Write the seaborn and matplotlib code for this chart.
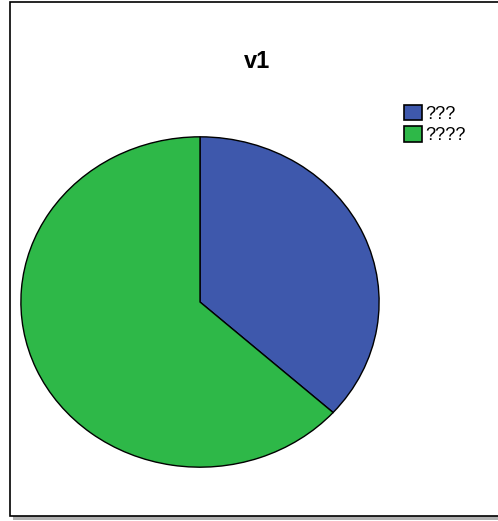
import matplotlib
matplotlib.use("Agg")
import matplotlib.pyplot as plt
import seaborn as sns
from matplotlib.patches import Rectangle, Patch

sns.set_theme(style="white")
plt.rcParams['font.family'] = ['Liberation Sans', 'DejaVu Sans']
plt.rcParams['text.color'] = 'black'

categories = ["???", "????"]
values = [11, 19]
colors = ["#3e58ac", "#2eb848"]
title = "v1"

W, H = 498, 521
fig = plt.figure(figsize=(W/100, H/100), dpi=100)

# frame with shadow
shadow = Rectangle((13/W, 1 - 520/H), 500/W, (520-6)/H, transform=fig.transFigure,
                   facecolor="#b0b0b0", edgecolor="none", zorder=0)
frame = Rectangle((10/W, 1 - 516/H), 500/W, (516-2)/H, transform=fig.transFigure,
                  facecolor="white", edgecolor="black", linewidth=1.2, zorder=1)
fig.patches.extend([shadow, frame])

ax = fig.add_axes([20/W, 1 - 468/H, 360/W, 332/H])
ax.set_zorder(2)
wedges, _ = ax.pie(values, colors=colors, startangle=90, counterclock=False,
                   radius=1, wedgeprops=dict(edgecolor="black", linewidth=1.0))
ax.set_aspect('auto')
ax.set_xlim(-1.005, 1.005)
ax.set_ylim(-1.005, 1.005)
ax.axis('off')

fig.text(257/W, 1 - 61/H, title, ha="center", va="center", fontsize=17,
         fontweight="bold", color="black", zorder=3)

handles = [Patch(facecolor=c, edgecolor="black", linewidth=1.2) for c in colors]
leg = fig.legend(handles, categories, loc="upper left", bbox_to_anchor=(391/W, 1 - 92/H),
                 frameon=False, fontsize=13, handlelength=1.0, handleheight=0.95,
                 handletextpad=0.2, labelspacing=0.2, borderpad=0.2)
for t in leg.get_texts():
    t.set_color("black")

fig.savefig("out.png", dpi=100)
